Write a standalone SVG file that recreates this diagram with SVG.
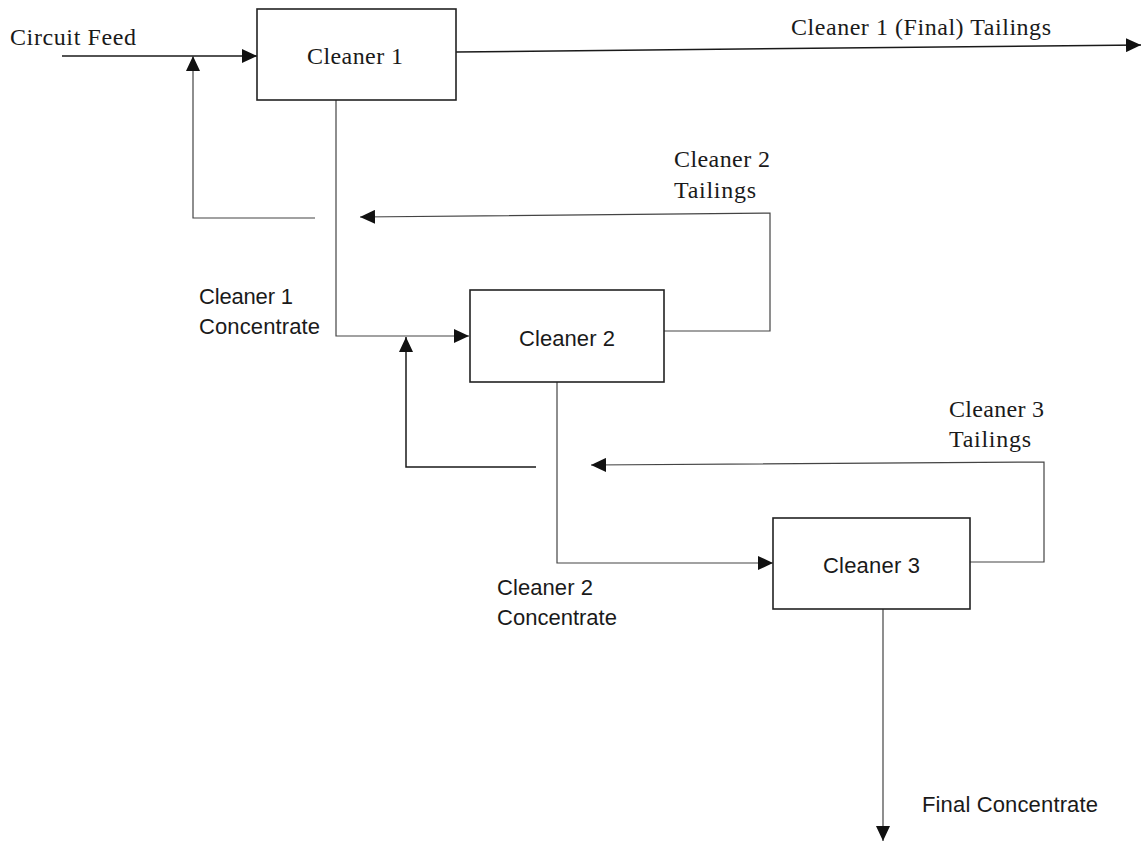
<svg xmlns="http://www.w3.org/2000/svg" width="1143" height="842" viewBox="0 0 1143 842">
  <style>
    .box { fill: #fff; stroke: #222; stroke-width: 1.6; }
    .flow { fill: none; stroke: #1a1a1a; stroke-width: 1.5; }
    .thin { fill: none; stroke: #444; stroke-width: 1.2; }
    .serif { font-family: "Liberation Serif", "Times New Roman", serif; font-size: 24px; fill: #1a1a1a; }
    .sans { font-family: "Liberation Sans", Arial, sans-serif; font-size: 22px; fill: #1a1a1a; }
  </style>
  <defs>
    <marker id="arrow" markerUnits="userSpaceOnUse" markerWidth="16" markerHeight="14" refX="15" refY="7" orient="auto">
      <path d="M0,0 L15,7 L0,14 Z" fill="#111"/>
    </marker>
  </defs>

  <rect width="1143" height="842" fill="#fff"/>

  <!-- streams between the cleaning stages -->
  <g id="connectors">
    <!-- circuit feed into Cleaner 1 -->
    <line class="flow" x1="62" y1="56" x2="257" y2="56" marker-end="url(#arrow)"/>
    <!-- Cleaner 1 final tailings -->
    <line class="flow" x1="456" y1="52" x2="1141" y2="45" marker-end="url(#arrow)"/>
    <!-- recycle to Cleaner 1 feed -->
    <polyline class="thin" points="315,218 193,218 193,56" marker-end="url(#arrow)"/>
    <!-- Cleaner 1 concentrate to Cleaner 2 -->
    <polyline class="thin" points="336,100 336,336 469,336" marker-end="url(#arrow)"/>
    <!-- Cleaner 2 tailings back -->
    <polyline class="thin" points="664,331 770,331 770,213 360,217" marker-end="url(#arrow)"/>
    <!-- recycle to Cleaner 2 feed -->
    <polyline class="flow" points="536,467 406,467 406,337" marker-end="url(#arrow)"/>
    <!-- Cleaner 2 concentrate to Cleaner 3 -->
    <polyline class="thin" points="557,382 557,563 773,563" marker-end="url(#arrow)"/>
    <!-- Cleaner 3 tailings back -->
    <polyline class="thin" points="970,562 1044,562 1044,462 591,465" marker-end="url(#arrow)"/>
    <!-- final concentrate -->
    <line class="thin" x1="883" y1="609" x2="883" y2="841" marker-end="url(#arrow)"/>
  </g>

  <g id="cleaner1">
    <rect class="box" x="257" y="9" width="199" height="91"/>
    <text class="serif" x="307" y="64" textLength="96" lengthAdjust="spacing">Cleaner 1</text>
  </g>

  <g id="cleaner2">
    <rect class="box" x="470" y="290" width="194" height="92"/>
    <text class="sans" x="519" y="346" textLength="96" lengthAdjust="spacing">Cleaner 2</text>
  </g>

  <g id="cleaner3">
    <rect class="box" x="773" y="518" width="197" height="91"/>
    <text class="sans" x="823" y="573" textLength="97" lengthAdjust="spacing">Cleaner 3</text>
  </g>

  <g id="labels">
    <text class="serif" x="10" y="45" textLength="126" lengthAdjust="spacing">Circuit Feed</text>
    <text class="serif" x="791" y="35" textLength="260" lengthAdjust="spacing">Cleaner 1 (Final) Tailings</text>
    <text class="serif" x="674" y="167" textLength="96" lengthAdjust="spacing">Cleaner 2</text>
    <text class="serif" x="674" y="198" textLength="82" lengthAdjust="spacing">Tailings</text>
    <text class="sans" x="199" y="304" textLength="94" lengthAdjust="spacing">Cleaner 1</text>
    <text class="sans" x="199" y="334" textLength="121" lengthAdjust="spacing">Concentrate</text>
    <text class="serif" x="949" y="417" textLength="95" lengthAdjust="spacing">Cleaner 3</text>
    <text class="serif" x="949" y="447" textLength="82" lengthAdjust="spacing">Tailings</text>
    <text class="sans" x="497" y="595" textLength="96" lengthAdjust="spacing">Cleaner 2</text>
    <text class="sans" x="497" y="625" textLength="120" lengthAdjust="spacing">Concentrate</text>
    <text class="sans" x="922" y="812" textLength="176" lengthAdjust="spacing">Final Concentrate</text>
  </g>
</svg>
